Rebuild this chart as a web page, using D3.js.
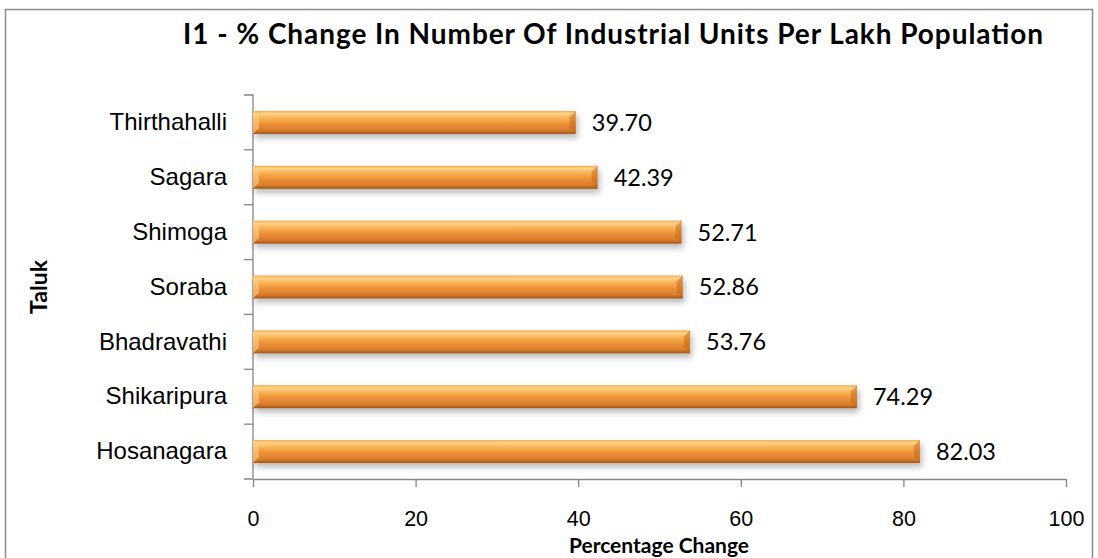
<!DOCTYPE html>
<html>
<head>
<meta charset="utf-8">
<script src="https://cdn.jsdelivr.net/npm/d3@7"></script>
<style>
  body { margin: 0; background: #fff; }
  svg { display: block; font-family: Lato, "Open Sans", sans-serif; }
</style>
</head>
<body>
<div class="container"></div>
<script>
const w = 1098
const h = 558
const taluks = ["Thirthahalli","Sagara","Shimoga","Soraba","Bhadravathi","Shikaripura","Hosanagara"]
const values = [39.70, 42.39, 52.71, 52.86, 53.76, 74.29, 82.03]
const xTicks = [0, 20, 40, 60, 80, 100]

const plotLeft = 253, plotRight = 1066, plotTop = 95, plotBottom = 479

const svg = d3.select(".container")
              .append("svg")
              .attr("width", w)
              .attr("height", h)

const defs = svg.append("defs")
const grad = defs.append("linearGradient")
                 .attr("id", "barGrad")
                 .attr("x1", 0).attr("y1", 0).attr("x2", 0).attr("y2", 1)
;[[0, "#f6a94a"], [0.12, "#fdd38c"], [0.3, "#f8b456"], [0.55, "#ee9238"], [0.85, "#d77a2b"], [1, "#9c5518"]]
  .forEach(s => grad.append("stop").attr("offset", s[0]).attr("stop-color", s[1]))

const shadow = defs.append("filter").attr("id", "shadow")
                   .attr("x", "-5%").attr("y", "-30%").attr("width", "110%").attr("height", "190%")
shadow.append("feDropShadow")
      .attr("dx", 2).attr("dy", 4).attr("stdDeviation", 3)
      .attr("flood-color", "#000").attr("flood-opacity", 0.28)

// outer frame
svg.append("rect")
   .attr("x", 5.5).attr("y", 9.5)
   .attr("width", 1087).attr("height", 580)
   .attr("fill", "none")
   .attr("stroke", "#8c8c8c")
   .attr("stroke-width", 1.5)

const xScale = d3.scaleLinear().domain([0, 100]).range([plotLeft, plotRight])
const yScale = d3.scaleBand().domain(taluks).range([plotTop, plotBottom]).paddingInner(0.58).paddingOuter(0.29)

const xAxis = d3.axisBottom(xScale).tickValues(xTicks).tickSize(8).tickSizeOuter(0).tickPadding(24)
const yAxis = d3.axisLeft(yScale).tickSize(0).tickPadding(26)

const gx = svg.append("g")
   .attr("transform", `translate(0, ${plotBottom})`)
   .call(xAxis)
gx.select(".domain").attr("stroke", "#868686").attr("stroke-width", 1.3)
gx.selectAll(".tick line").attr("stroke", "#868686").attr("stroke-width", 1.3)
gx.selectAll(".tick text").attr("font-size", 21.5).attr("fill", "#000")

const gy = svg.append("g")
   .attr("transform", `translate(${plotLeft}, 0)`)
   .call(yAxis)
gy.select(".domain").attr("stroke", "#868686").attr("stroke-width", 1.3)
  .attr("d", `M-9,${plotTop}H0V${plotBottom}H-9`)
gy.selectAll(".tick text").attr("font-size", 24).attr("fill", "#000")

// category boundary ticks
gy.selectAll(".bound")
  .data(d3.range(1, taluks.length))
  .enter()
  .append("line")
    .attr("x1", -9).attr("x2", 0)
    .attr("y1", i => plotTop + i * (plotBottom - plotTop) / taluks.length)
    .attr("y2", i => plotTop + i * (plotBottom - plotTop) / taluks.length)
    .attr("stroke", "#868686").attr("stroke-width", 1.3)

const bars = svg.append("g")
bars.selectAll("rect")
    .data(values)
    .enter()
    .append("rect")
      .attr("x", xScale(0))
      .attr("y", (d, i) => yScale(taluks[i]))
      .attr("width", d => xScale(d) - xScale(0))
      .attr("height", yScale.bandwidth())
      .attr("fill", "url(#barGrad)")
      .attr("filter", "url(#shadow)")

// bevelled ends
bars.selectAll("path.bevel")
    .data(values)
    .enter()
    .append("path")
      .attr("class", "bevel")
      .attr("d", (d, i) => {
        const x1 = xScale(d), y0 = yScale(taluks[i]), bh = yScale.bandwidth(), b = 6
        return `M${x1},${y0}L${x1 - b},${y0 + b}L${x1 - b},${y0 + bh - b}L${x1},${y0 + bh}Z`
      })
      .attr("fill", "#c46a1f").attr("opacity", 0.55)
bars.selectAll("path.bevelL")
    .data(values)
    .enter()
    .append("path")
      .attr("class", "bevelL")
      .attr("d", (d, i) => {
        const x0 = xScale(0), y0 = yScale(taluks[i]), bh = yScale.bandwidth(), b = 6
        return `M${x0},${y0}L${x0 + b},${y0 + b}L${x0 + b},${y0 + bh - b}L${x0},${y0 + bh}Z`
      })
      .attr("fill", "#fbd08a").attr("opacity", 0.6)

svg.append("g").selectAll("text")
   .data(values)
   .enter()
   .append("text")
     .attr("x", d => xScale(d) + 16)
     .attr("y", (d, i) => yScale(taluks[i]) + yScale.bandwidth() / 2)
     .attr("dy", "0.36em")
     .attr("font-size", 23.5)
     .text(d => d.toFixed(2))

svg.append("text")
   .attr("x", 613).attr("y", 44)
   .attr("text-anchor", "middle")
   .attr("font-size", 28).attr("font-weight", "bold")
   .attr("textLength", 860).attr("lengthAdjust", "spacing")
   .text("I1 - % Change In Number Of Industrial Units Per Lakh Population")

svg.append("text")
   .attr("transform", `translate(47, ${(plotTop + plotBottom) / 2}) rotate(-90)`)
   .attr("text-anchor", "middle")
   .attr("font-size", 23).attr("font-weight", "bold")
   .text("Taluk")

svg.append("text")
   .attr("x", 659).attr("y", 553)
   .attr("text-anchor", "middle")
   .attr("font-size", 21).attr("font-weight", "bold")
   .text("Percentage Change")
</script>
</body>
</html>
